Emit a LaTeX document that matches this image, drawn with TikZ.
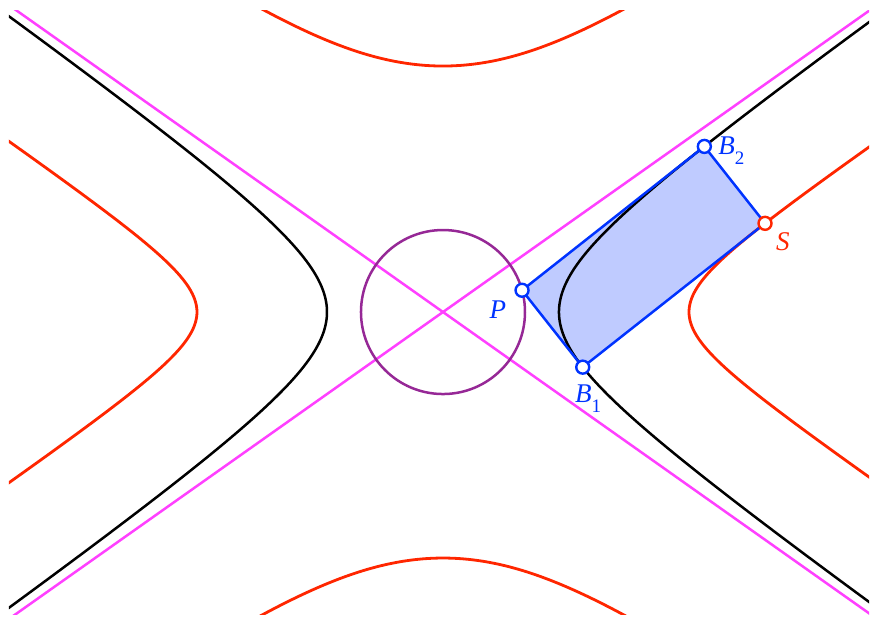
\documentclass[tikz,border=0pt]{standalone}
\usepackage{fontspec}
\setmainfont{Liberation Serif}
\definecolor{hred}{RGB}{255,38,0}
\definecolor{hmag}{RGB}{255,64,255}
\definecolor{hblue}{RGB}{0,51,255}
\definecolor{hfill}{RGB}{191,203,255}
\definecolor{hpurp}{RGB}{150,40,150}
\newcommand\subidx[1]{\raisebox{-0.36em}{\upshape\fontsize{19}{20}\selectfont #1}}
\begin{document}
\begin{tikzpicture}[x=82pt,y=82pt,
  curve/.style={line width=2.5pt},
  dot/.style={circle,draw=hblue,fill=white,line width=2.4pt,minimum size=13pt,inner sep=0pt},
  lbl/.style={font=\fontsize{27}{30}\selectfont\itshape,inner sep=0pt,anchor=base west}]
\useasboundingbox (-5.402,-3.744) rectangle (5.207,3.805);
\coordinate (O) at (0,0);
\coordinate (Pc) at (0.964095,0.265556);
\coordinate (B1c) at (1.70411,-0.67231);
\coordinate (B2c) at (3.18706,2.01959);
\coordinate (Sc) at (3.92707,1.08170);
\fill[hfill] (Pc) -- (B2c) -- (Sc) -- (B1c) -- cycle;
\begin{scope}
  \clip (-5.293,-3.683) rectangle (5.195,3.683);
  \draw[curve,hmag] (-6,-4.2426) -- (6,4.2426);
  \draw[curve,hmag] (-6,4.2426) -- (6,-4.2426);
  \draw[curve,black] plot[domain=-2.1:2.1,samples=140] ({1.41421*cosh(\x)},{sinh(\x)});
  \draw[curve,black] plot[domain=-2.1:2.1,samples=140] ({-1.41421*cosh(\x)},{sinh(\x)});
  \foreach \a/\b in {-27/27,153/207,45/135,225/315}{
    \draw[curve,hred,line width=2.8pt] plot[domain=\a:\b,samples=160,variable=\t]
      ({(2/(0.5*cos(\t)*cos(\t)-sin(\t)*sin(\t))-1)*cos(\t)},
       {(2/(0.5*cos(\t)*cos(\t)-sin(\t)*sin(\t))-1)*sin(\t)});
  }
\end{scope}
\draw[curve,hpurp] (O) circle (1);
\draw[curve,hblue,line join=round] (Pc) -- (B2c) -- (Sc) -- (B1c) -- cycle;
\node[dot] (P) at (Pc) {};
\node[dot] (B1) at (B1c) {};
\node[dot] (B2) at (B2c) {};
\node[dot,draw=hred] (S) at (Sc) {};
\node[lbl,text=hblue] (Plbl) at (0.565,-0.077) {P};
\node[lbl,text=hblue] (B2lbl) at (3.355,1.923) {B\subidx{2}};
\node[lbl,text=hblue] (B1lbl) at (1.61,-1.106) {B\subidx{1}};
\node[lbl,text=hred] (Slbl) at (4.06,0.747) {S};
\end{tikzpicture}
\end{document}
